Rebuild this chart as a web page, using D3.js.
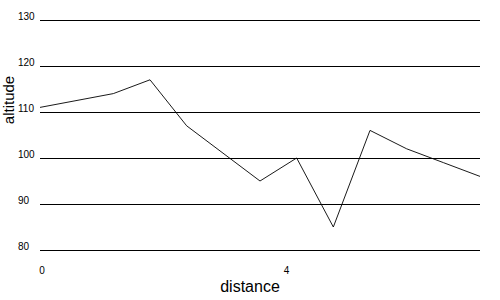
<!DOCTYPE html>
<html>
<head>
<meta charset="utf-8">
<script src="https://cdn.jsdelivr.net/npm/d3@7"></script>
<style>
  body { margin: 0; background: #fff; }
  svg { font-family: "Liberation Sans", Arial, sans-serif; }
</style>
</head>
<body>
<svg id="chart" width="500" height="300"></svg>
<script>
var distance = [0, 1.2, 1.8, 2.4, 3.6, 4.2, 4.8, 5.4, 6.0, 6.6, 7.2]
var altitude = [111, 114, 117, 107, 95, 100, 85, 106, 102, 99, 96]
var yTicks = [80, 90, 100, 110, 120, 130]
var xTicks = [0, 4]

var dimensions = ({
    width: 500,
    height: 300,
    margin: {
        top: 20,
        bottom: 50,
        right: 20,
        left: 40
    }
})

var data = distance.map(function(d, i){ return {x: d, y: altitude[i]} })

var svg = d3.select("#chart")

var xScale = d3.scaleLinear()
               .domain([0, 7.2])
               .range([dimensions.margin.left, dimensions.width - dimensions.margin.right])

var yScale = d3.scaleLinear()
               .domain([80, 130])
               .range([dimensions.height - dimensions.margin.bottom, dimensions.margin.top])

// horizontal grid lines with labels sitting on the left
var yAxis = d3.axisLeft(yScale)
              .tickValues(yTicks)
              .tickSize(-(dimensions.width - dimensions.margin.left - dimensions.margin.right))
              .tickFormat(d3.format("d"))

svg.append("g")
   .attr("transform", "translate(" + dimensions.margin.left + ",0)")
   .call(yAxis)
   .call(function(g){ g.select(".domain").remove() })
   .call(function(g){
       g.selectAll(".tick line")
        .attr("stroke", "#000")
        .attr("stroke-width", 1.2)
       g.selectAll(".tick text")
        .attr("x", -22)
        .attr("dy", "-0.1em")
        .style("text-anchor", "start")
        .style("font-size", "10px")
        .attr("fill", "#000")
   })

var xAxis = d3.axisBottom(xScale)
              .tickValues(xTicks)
              .tickSize(0)
              .tickFormat(d3.format("d"))

svg.append("g")
   .attr("transform", "translate(0," + (dimensions.height - dimensions.margin.bottom) + ")")
   .call(xAxis)
   .call(function(g){ g.select(".domain").remove() })
   .call(function(g){
       g.selectAll(".tick text")
        .attr("x", 1.5)
        .attr("y", 17)
        .attr("dy", "0.71em")
        .style("font-size", "10px")
        .attr("fill", "#000")
   })

var line = d3.line()
             .x(function(d){ return xScale(d.x) })
             .y(function(d){ return yScale(d.y) })

svg.append("path")
   .datum(data)
   .attr("d", line)
   .attr("fill", "none")
   .attr("stroke", "#000")
   .attr("stroke-width", 0.9)

svg.append("text")
   .attr("x", 250)
   .attr("y", 291.5)
   .style("text-anchor", "middle")
   .style("font-size", "16px")
   .text("distance")

svg.append("text")
   .attr("transform", "translate(14,100) rotate(-90)")
   .style("text-anchor", "middle")
   .style("font-size", "15px")
   .text("altitude")
</script>
</body>
</html>
